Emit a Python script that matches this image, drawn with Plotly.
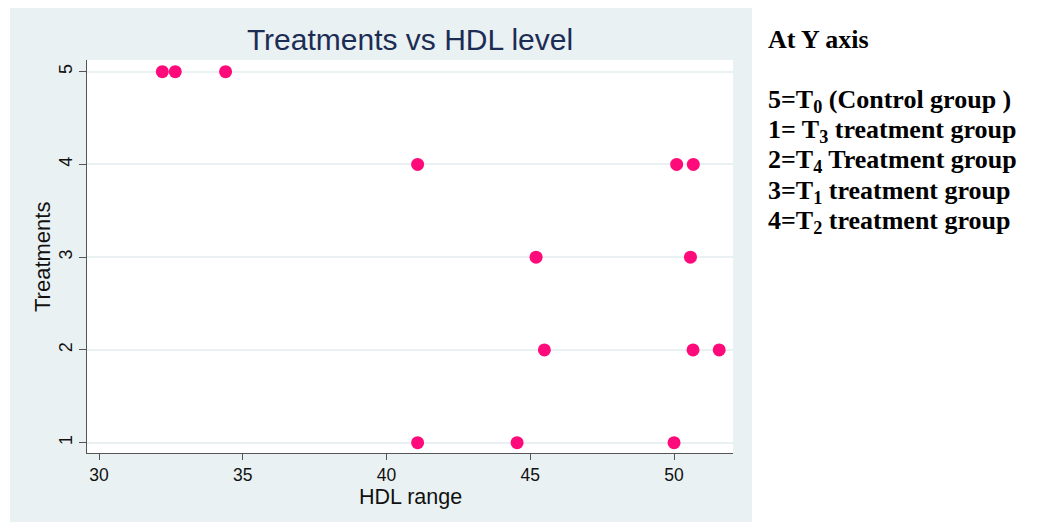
import plotly.graph_objects as go

# Data
hdl_t5 = [32.2, 32.65, 34.4]
hdl_t4 = [41.08, 50.09, 50.67]
hdl_t3 = [45.2, 50.57]
hdl_t2 = [45.49, 50.66, 51.57]
hdl_t1 = [41.08, 44.54, 50.0]

treatment_levels = [5, 4, 3, 2, 1]
hdl_values = [hdl_t5, hdl_t4, hdl_t3, hdl_t2, hdl_t1]

x_ticks = [30, 35, 40, 45, 50]
y_ticks = [1, 2, 3, 4, 5]

legend_title = "At Y axis"
legend_lines = [
    "5=T<sub>0</sub> (Control group )",
    "1= T<sub>3</sub> treatment group",
    "2=T<sub>4</sub> Treatment group",
    "3=T<sub>1</sub> treatment group",
    "4=T<sub>2</sub> treatment group",
]

xs, ys = [], []
for lvl, vals in zip(treatment_levels, hdl_values):
    for v in vals:
        xs.append(v)
        ys.append(lvl)

fig = go.Figure()
fig.add_trace(go.Scatter(
    x=xs, y=ys, mode="markers",
    marker=dict(color="#FF0A7A", size=13, line=dict(width=0)),
    showlegend=False, cliponaxis=False,
))

OFF = 8  # page body margin
W, H = 1039 - OFF, 522 - OFF
L, R, T, B = 87 - OFF, 733 - OFF, 60 - OFF, 453 - OFF
pw, ph = R - L, B - T


def px_x(p):
    return (p - OFF - L) / pw


def px_y(p):
    return (B - (p - OFF)) / ph


# grey graph region
fig.add_shape(type="rect", xref="paper", yref="paper",
              x0=px_x(10), x1=px_x(752), y0=px_y(522), y1=px_y(7),
              fillcolor="#EAF1F3", line=dict(width=0), layer="below")
fig.add_shape(type="rect", xref="paper", yref="paper",
              x0=0, x1=1, y0=0, y1=1,
              fillcolor="white", line=dict(width=0), layer="below")

fig.update_layout(
    width=W, height=H,
    margin=dict(l=L, r=W - R, t=T, b=H - B),
    paper_bgcolor="white", plot_bgcolor="white",
    font=dict(family="Liberation Sans, Arial, sans-serif", color="#111111"),
    title=dict(text="Treatments vs HDL level", xref="paper", x=px_x(410),
               xanchor="center", yref="container",
               y=1 - (39 - OFF) / H, yanchor="middle",
               font=dict(size=30, color="#1C2D55")),
)

fig.update_xaxes(
    range=[29.58, 52.05], tickvals=x_ticks, ticks="outside", ticklen=6,
    tickcolor="#555555", tickwidth=1.3, showline=True, linecolor="#555555",
    linewidth=1.3, showgrid=False, zeroline=False,
    tickfont=dict(size=17.5, color="#111111"),
)
fig.update_yaxes(
    range=[0.889, 5.126], tickvals=y_ticks, ticks="outside", ticklen=7,
    tickcolor="#555555", tickwidth=1.3, showline=True, linecolor="#555555",
    linewidth=1.3, showgrid=True, gridcolor="#EAF1F3", gridwidth=1.5,
    zeroline=False, tickangle=-90,
    tickfont=dict(size=18, color="#111111"),
)

# axis titles
fig.add_annotation(text="HDL range", xref="paper", yref="paper",
                   x=px_x(410), y=px_y(497), xanchor="center", yanchor="middle",
                   showarrow=False, font=dict(size=21.5, color="#111111"))
fig.add_annotation(text="Treatments", xref="paper", yref="paper", textangle=-90,
                   x=px_x(42), y=px_y(257), xanchor="center", yanchor="middle",
                   showarrow=False, font=dict(size=22, color="#111111"))

serif = "Liberation Serif, Times New Roman, serif"
fig.add_annotation(text="<b>" + legend_title + "</b>", xref="paper", yref="paper",
                   x=px_x(766), y=px_y(40), xanchor="left", yanchor="middle",
                   showarrow=False, font=dict(family=serif, size=26, color="black"))
line_centers = [101, 131, 161, 192, 222]
for txt, yc in zip(legend_lines, line_centers):
    fig.add_annotation(text="<b>" + txt + "</b>", xref="paper", yref="paper",
                       x=px_x(766), y=px_y(yc), xanchor="left", yanchor="middle",
                       showarrow=False, font=dict(family=serif, size=26, color="black"))

fig.write_html("out.html")
